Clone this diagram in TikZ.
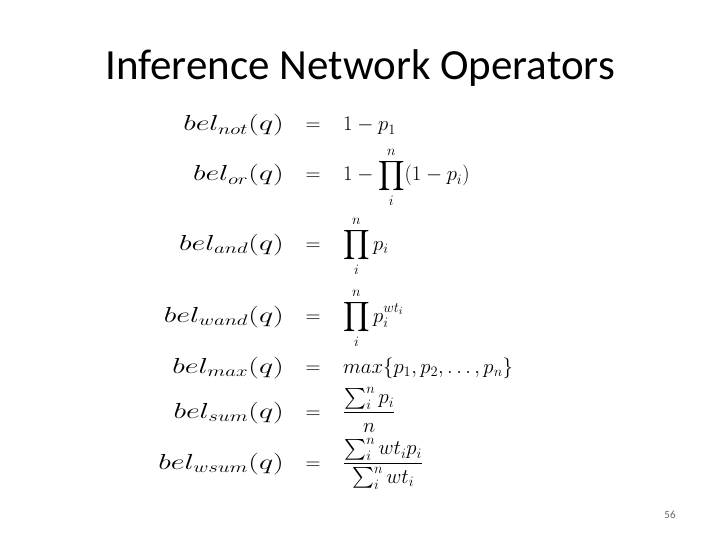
\documentclass[tikz,border=0pt]{standalone}
\usepackage{fontspec}
\setmainfont{Carlito}
\usepackage{amsmath}
\usepackage{graphicx}
\begin{document}
\begin{tikzpicture}[x=1pt,y=-1pt,
  eq/.style={inner sep=0pt,font=\fontsize{21}{25}\selectfont}]
\useasboundingbox (0,0) rectangle (720,540);
\fill[white] (0,0) rectangle (720,540);
\node[font=\fontsize{43}{50}\selectfont] (title) at (360,68) {Inference Network Operators};
\foreach \n/\y/\l/\r in {
 a/131/{bel_{not}(q)}/{1-p_1},
 b/181/{bel_{or}(q)}/{1-\prod_i^n(1-p_i)},
 c/250/{bel_{and}(q)}/{\prod_i^n p_i},
 d/322/{bel_{wand}(q)}/{\prod_i^n p_i^{wt_i}},
 e/373/{bel_{max}(q)}/{max\{p_1,p_2,\ldots,p_n\}},
 f/418/{bel_{sum}(q)}/{\frac{\sum_i^n p_i}{n}},
 g/469/{bel_{wsum}(q)}/{\frac{\sum_i^n wt_ip_i}{\sum_i^n wt_i}}}{
  \node[eq,anchor=base east] (l\n) at (284,\y) {\scalebox{1.45}[1.05]{$\displaystyle \l$}};
  \node[eq,anchor=base] (m\n) at (313,\y) {$=$};
  \node[eq,anchor=base west] (r\n) at (343,\y) {$\displaystyle \r$};
}
\node[font=\fontsize{11}{13}\selectfont,text=black!60] (pg) at (670,515) {56};
\end{tikzpicture}
\end{document}
